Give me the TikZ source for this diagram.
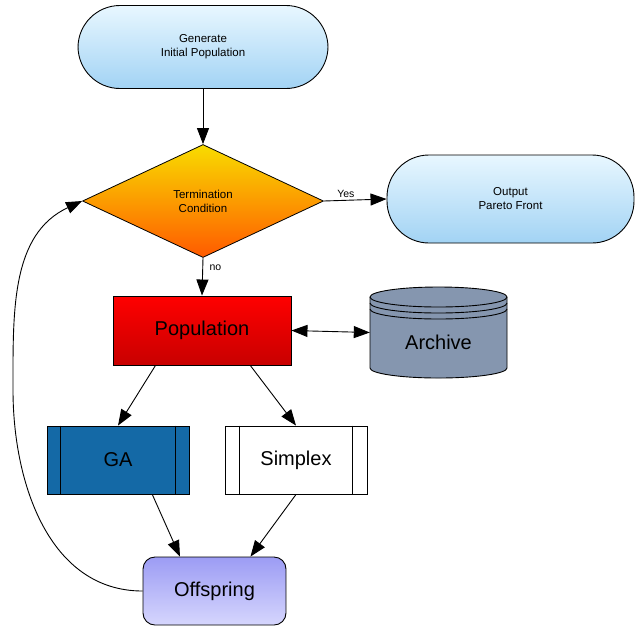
\documentclass[tikz,border=0pt]{standalone}
\usepackage{fontspec}
\setmainfont{Liberation Sans}
\usetikzlibrary{shapes.geometric,arrows.meta,calc}
\definecolor{skytop}{HTML}{E8F7FF}
\definecolor{skybot}{HTML}{A2D3F4}
\definecolor{dtop}{HTML}{F8DC00}
\definecolor{dbot}{HTML}{FF5A00}
\definecolor{ptop}{HTML}{FF0000}
\definecolor{pbot}{HTML}{C80000}
\definecolor{archfill}{HTML}{8596AF}
\definecolor{gablue}{HTML}{1469A6}
\definecolor{otop}{HTML}{9C9CF4}
\definecolor{obot}{HTML}{D6D6FD}
\tikzset{
  x=1pt, y=1pt,
  every node/.style={font=\fontsize{11.5}{14}\selectfont, align=center, text=black},
  edge/.style={draw=black, line width=0.9pt},
  arr/.style={edge, -{Triangle[length=16pt,width=12pt]}},
  terminal/.style={draw=black, line width=0.9pt, rounded corners=42pt,
    top color=skytop, bottom color=skybot, inner sep=0pt},
  decision/.style={draw=black, line width=0.8pt, diamond, inner sep=0pt,
    top color=dtop, bottom color=dbot},
  bigtext/.style={font=\fontsize{20}{22}\selectfont},
  procbox/.style={draw=black, line width=0.9pt, inner sep=0pt,
    minimum width=142pt, minimum height=68pt, bigtext},
  small/.style={font=\fontsize{10.5}{12}\selectfont},
}
\begin{document}
\begin{tikzpicture}
\useasboundingbox (0,0) rectangle (636,-630);
\fill[white] (0,0) rectangle (636,-630);

% start and end terminals
\node[terminal, minimum width=250pt, minimum height=83pt] (gen) at (203,-47)
  {Generate\\Initial Population};
\node[terminal, minimum width=247pt, minimum height=88pt] (out) at (510.5,-199)
  {Output\\Pareto Front};

% decision
\node[decision, minimum width=241pt, minimum height=113pt] (dia) at (203,-201)
  {Termination\\Condition};

% population
\node[draw=black, line width=0.9pt, top color=ptop, bottom color=pbot,
  minimum width=178pt, minimum height=69pt, inner sep=0pt, bigtext]
  (pop) at (202,-330.5) {Population};

% archive cylinder
\node[minimum width=137pt, minimum height=91pt, inner sep=0pt] (arch) at (438.5,-332.5) {};
\begin{scope}[line width=0.9pt]
  \fill[archfill] (370,-297) arc[start angle=180, end angle=0, x radius=68.5, y radius=10]
    -- (507,-368) arc[start angle=0, end angle=-180, x radius=68.5, y radius=10] -- cycle;
  \draw (370,-297) arc[start angle=180, end angle=0, x radius=68.5, y radius=10]
    -- (507,-368) arc[start angle=0, end angle=-180, x radius=68.5, y radius=10] -- cycle;
  \draw (370,-297) arc[start angle=180, end angle=360, x radius=68.5, y radius=10];
  \draw (370,-303) arc[start angle=180, end angle=360, x radius=68.5, y radius=10];
  \draw (370,-309) arc[start angle=180, end angle=360, x radius=68.5, y radius=10];
\end{scope}
\node[bigtext] at (438.5,-342) {Archive};

% predefined processes
\node[procbox, fill=gablue] (ga) at (118,-460) {GA};
\draw[line width=0.9pt] ($(ga.north west)+(14,0)$) -- ($(ga.south west)+(14,0)$)
  ($(ga.north east)+(-14,0)$) -- ($(ga.south east)+(-14,0)$);
\node[procbox, fill=white] (sim) at (296,-460) {Simplex};
\draw[line width=0.9pt] ($(sim.north west)+(15,0)$) -- ($(sim.south west)+(15,0)$)
  ($(sim.north east)+(-15,0)$) -- ($(sim.south east)+(-15,0)$);

% offspring
\node[draw=black, line width=0.9pt, rounded corners=12pt, top color=otop, bottom color=obot,
  minimum width=143pt, minimum height=68pt, inner sep=0pt, bigtext]
  (off) at (214.5,-591) {Offspring};

% connectors
\draw[arr] (gen.south) -- (dia.north);
\draw[arr] (dia.east) -- node[small, pos=0.35, above=-1pt] {Yes} (out.west);
\draw[arr] (dia.south) -- node[small, pos=0.25, right=3pt] {no} (pop.north);
\draw[edge, {Triangle[length=16pt,width=12pt]}-{Triangle[length=16pt,width=12pt]}]
  (pop.east) -- (arch.west);
\draw[arr] ($(pop.south west)!0.24!(pop.south east)$) -- (ga.north);
\draw[arr] ($(pop.south west)!0.77!(pop.south east)$) -- (sim.north);
\draw[arr] ($(ga.south west)!0.74!(ga.south east)$) -- ($(off.north west)!0.26!(off.north east)$);
\draw[arr] (sim.south) -- ($(off.north west)!0.75!(off.north east)$);
\coordinate (bend) at (13,-390);
\draw[arr] (off.west) to[out=180, in=-90] (bend) to[out=90, in=205] (dia.west);
\end{tikzpicture}
\end{document}
